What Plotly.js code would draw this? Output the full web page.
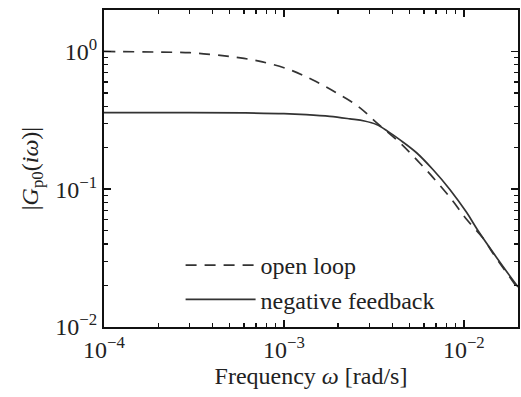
<!DOCTYPE html>
<html>
<head>
<meta charset="utf-8">
<script src="https://cdn.plot.ly/plotly-3.0.1.min.js"></script>
<style>html,body{margin:0;padding:0;background:#fff;}#chart{width:521px;height:397px;}</style>
</head>
<body>
<div id="chart"></div>
<script>
// Open loop magnitude
const openFreq = [1e-4, 2e-4, 3e-4, 4e-4, 5e-4, 6e-4, 7.6e-4, 1.08e-3, 1.45e-3, 1.96e-3, 2.58e-3, 3.27e-3, 4.4e-3, 5.46e-3, 6.73e-3, 8.55e-3, 1.035e-2, 1.28e-2, 1.48e-2, 2e-2];
const openMag  = [1.0, 0.99, 0.98, 0.95, 0.92, 0.89, 0.84, 0.736, 0.62, 0.50, 0.40, 0.305, 0.218, 0.164, 0.122, 0.0843, 0.0605, 0.044, 0.033, 0.019];
// Negative feedback magnitude
const fbFreq = [1e-4, 3e-4, 6e-4, 1e-3, 1.33e-3, 1.8e-3, 2.33e-3, 2.8e-3, 3.27e-3, 3.8e-3, 4.4e-3, 5.46e-3, 6.73e-3, 8.36e-3, 1.035e-2, 1.2e-2, 1.52e-2, 2e-2];
const fbMag  = [0.36, 0.36, 0.358, 0.354, 0.348, 0.338, 0.324, 0.313, 0.295, 0.262, 0.229, 0.184, 0.139, 0.0997, 0.068, 0.05, 0.032, 0.0195];
const seriesNames = ["open loop", "negative feedback"];
// Tick labels
const xTickVals = [1e-4, 1e-3, 1e-2];
const xTickText = ["10<sup>−4</sup>", "10<sup>−3</sup>", "10<sup>−2</sup>"];
const yTickVals = [1e-2, 1e-1, 1];
const yTickText = ["10<sup>−2</sup>", "10<sup>−1</sup>", "10<sup>0</sup>"];

function minorTicks(lo, hi) {
  const v = [];
  for (let e = lo; e <= hi; e++) for (let m = 2; m <= 9; m++) v.push(m * Math.pow(10, e));
  return v;
}

const serif = "Liberation Serif, DejaVu Serif, serif";
const txt = "#222";
const xRange = [-4, Math.log10(2e-2)];
const yRange = [-2, Math.log10(2)];
const traces = [
  {x: openFreq, y: openMag, name: seriesNames[0], mode: "lines",
   line: {color: "#333", width: 1.7, dash: "11px,8px", shape: "spline", smoothing: 1}},
  {x: fbFreq, y: fbMag, name: seriesNames[1], mode: "lines",
   line: {color: "#333", width: 1.7, shape: "spline", smoothing: 1}}
];
const axisCommon = {
  type: "log",
  ticks: "inside", ticklen: 7, tickwidth: 1.5, tickcolor: "#111",
  showline: true, linecolor: "#111", linewidth: 2, mirror: "allticks",
  showgrid: false, zeroline: false,
  tickfont: {family: serif, size: 24, color: txt}
};
const layout = {
  width: 521, height: 397,
  margin: {l: 104, r: 3, t: 10, b: 70},
  paper_bgcolor: "#fff", plot_bgcolor: "#fff",
  showlegend: true,
  legend: {x: 0.185, y: 0.265, xanchor: "left", yanchor: "top",
           bgcolor: "rgba(0,0,0,0)", itemwidth: 70, tracegroupgap: 0,
           font: {family: serif, size: 24, color: txt}},
  xaxis: Object.assign({}, axisCommon, {
    range: xRange, tickmode: "array", tickvals: xTickVals, ticktext: xTickText,
    minor: {tickmode: "array", tickvals: minorTicks(-4, -2), ticks: "inside", ticklen: 4, tickwidth: 1.2, tickcolor: "#111"},
    title: {text: "Frequency <i>ω</i> [rad/s]", font: {family: serif, size: 24, color: txt}, standoff: 4}
  }),
  yaxis: Object.assign({}, axisCommon, {
    range: yRange, tickmode: "array", tickvals: yTickVals, ticktext: yTickText,
    minor: {tickmode: "array", tickvals: minorTicks(-2, 0), ticks: "inside", ticklen: 4, tickwidth: 1.2, tickcolor: "#111"},
    title: {text: "|<i>G</i><sub>p0</sub>(<i>iω</i>)|", font: {family: serif, size: 24, color: txt}, standoff: 10}
  })
};
Plotly.newPlot("chart", traces, layout, {displayModeBar: false, staticPlot: true});
</script>
</body>
</html>
